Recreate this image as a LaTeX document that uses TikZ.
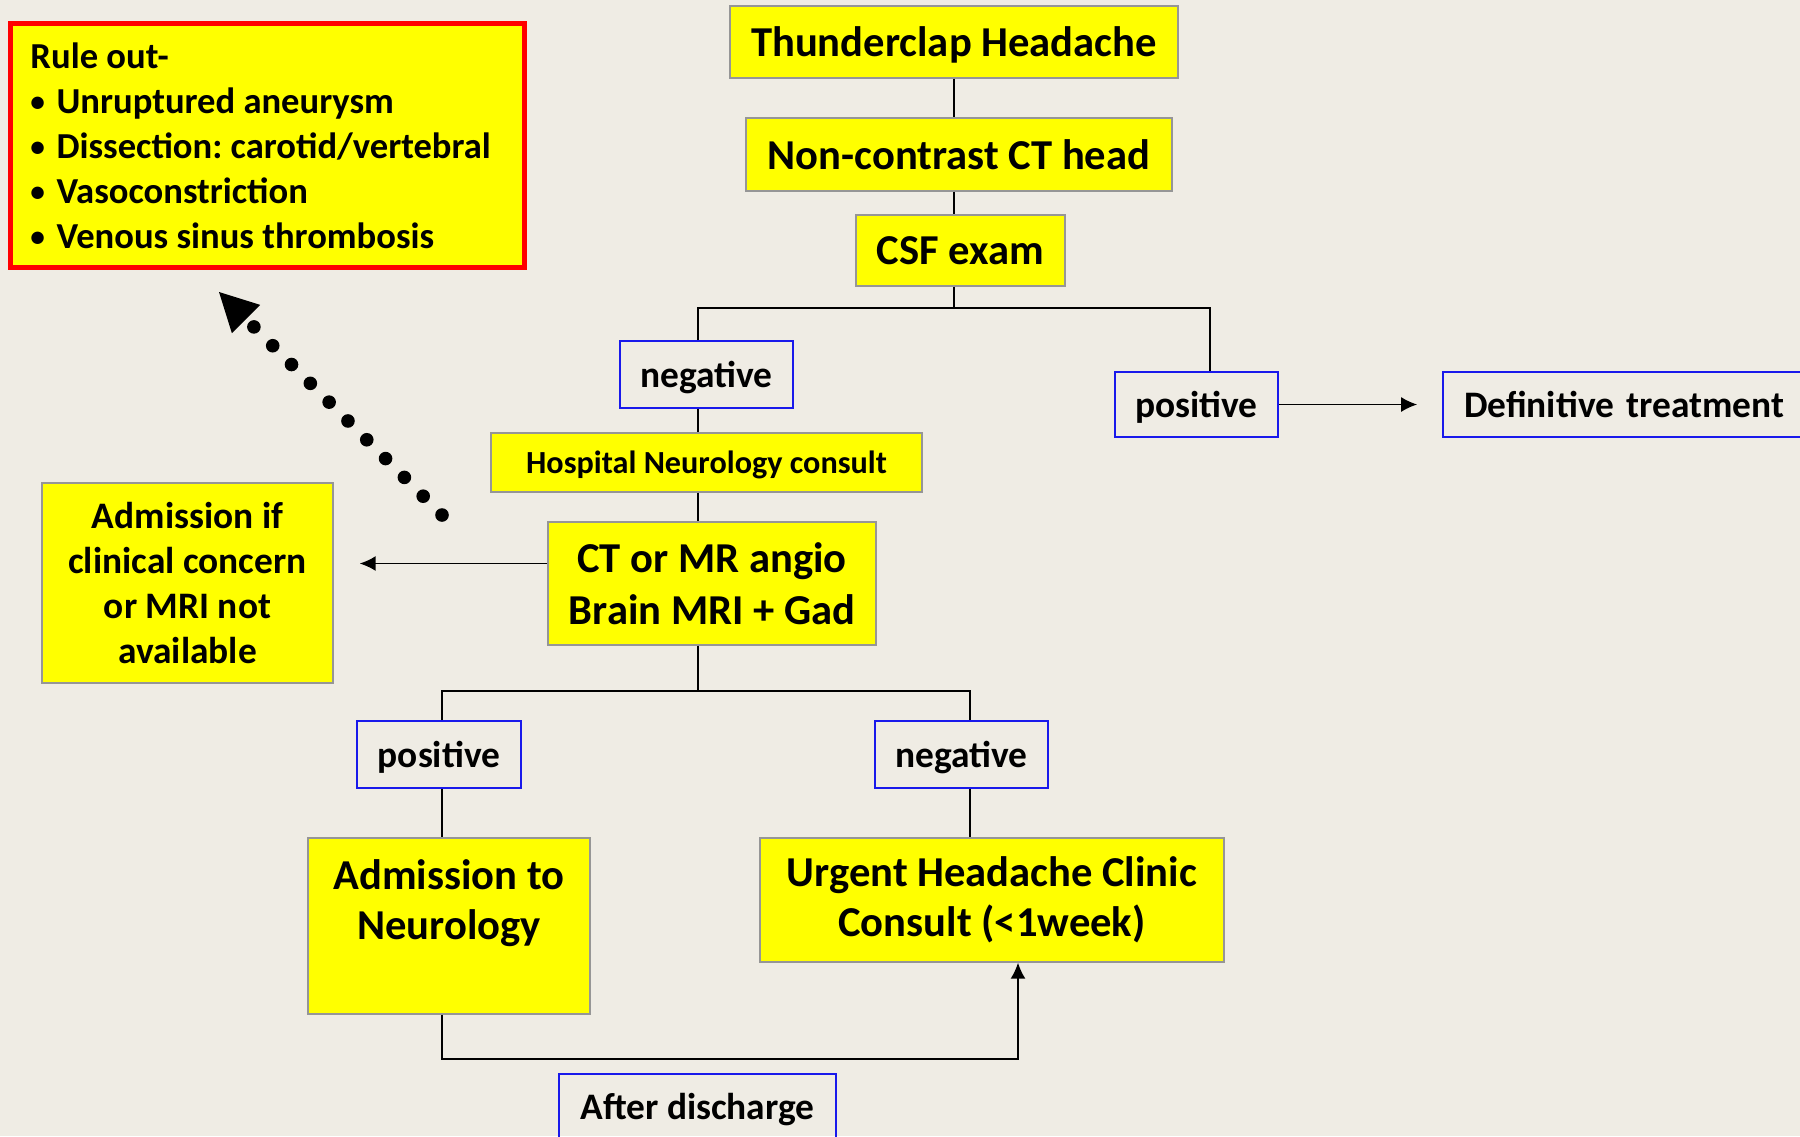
\documentclass[tikz,border=0pt]{standalone}
\usepackage{fontspec}
\setmainfont{Carlito}
\usetikzlibrary{arrows.meta, positioning, calc}
\definecolor{mybg}{RGB}{239, 236, 228}
\definecolor{myyellow}{RGB}{255, 255, 0}
\definecolor{mygray}{RGB}{150, 150, 150}
\definecolor{myblue}{RGB}{25, 25, 235}
\definecolor{myred}{RGB}{255, 0, 0}
\newcommand{\fs}[2]{\fontsize{#1pt}{#2pt}\selectfont\bfseries}
\newcommand{\bul}{\raisebox{0.06em}{\scalebox{0.8}{•}}\ \hspace{1.6pt}}
\frenchspacing
\tikzset{>={Latex[length=8pt, width=7.5pt]}}
\tikzset{
  ybox/.style = {draw = mygray, line width = 0.7pt, fill = myyellow, align = center, inner sep = 0pt},
  bbox/.style = {draw = myblue, line width = 0.9pt, align = center, inner sep = 0pt, text depth = 0pt, font = \fs{18.7}{22}},
  conn/.style = {line width = 0.8pt},
}

\begin{document}
\begin{tikzpicture}[x = 0.5pt, y = -0.5pt]
\fill[mybg] (0, 0) rectangle (1800, 1136);
\useasboundingbox (0, 0) rectangle (1800, 1136);
\clip (0, 0) rectangle (1800, 1136);

% top column
\node[ybox, minimum width = 224pt, minimum height = 36pt, text depth = 0pt, font = \fs{21.3}{26}] (thunder) at (954, 42) {Thunderclap Headache};
\node[ybox, minimum width = 213pt, minimum height = 36.5pt, font = \fs{21.3}{26}] (ncct) at (959, 154.5) {Non-contrast CT head};
\node[ybox, minimum width = 104.5pt, minimum height = 35.5pt, font = \fs{21.3}{26}] (csf) at (960.5, 250.5) {CSF exam};

% rule out box
\node[ybox, draw = myred, line width = 2.5pt, anchor = north west, minimum width = 257pt, minimum height = 122pt,
      text width = 237pt, align = flush left, font = \fs{18.3}{22.5}] (rule) at (8, 21)
  {Rule out-\\
   \bul Unruptured aneurysm\\
   \bul Dissection: carotid/vertebral\\
   \bul Vasoconstriction\\
   \bul Venous sinus thrombosis};

% first branch
\node[bbox, minimum width = 86.5pt, minimum height = 33.5pt] (neg1) at (706.5, 374.5) {negative};
\node[bbox, minimum width = 81.5pt, minimum height = 32.5pt] (pos1) at (1196.5, 404.5) {positive};
\node[bbox, minimum width = 185pt, minimum height = 32.5pt, text width = 164pt, align = left] (defin) at (1628, 404.5) {Definitive treatment};
\node[ybox, minimum width = 215.5pt, minimum height = 29.5pt, text depth = 0pt, font = \fs{16.1}{19}] (hosp) at (706.5, 462.5) {Hospital Neurology consult};
\node[ybox, minimum width = 164pt, minimum height = 61.5pt, font = \fs{21.3}{26}] (ctmr) at (712, 583.5) {CT or MR angio\\Brain MRI + Gad};
\node[ybox, minimum width = 145.5pt, minimum height = 100pt, font = \fs{18.7}{22.5}] (adm1) at (187.5, 583) {Admission if\\clinical concern\\or MRI not\\available};

% second branch
\node[bbox, minimum width = 82pt, minimum height = 33.5pt] (pos2) at (439, 754.5) {positive};
\node[bbox, minimum width = 86.5pt, minimum height = 33.5pt] (neg2) at (961.5, 754.5) {negative};
\node[ybox, minimum width = 141pt, minimum height = 88pt] (adm2) at (449, 926) {};
\node[font = \fs{21.3}{25}, align = center, inner sep = 0pt, anchor = north] (adm2txt) at (449, 859) {Admission to\\Neurology};
\node[ybox, minimum width = 232pt, minimum height = 62pt, font = \fs{21.3}{25}] (urg) at (992, 900) {Urgent Headache Clinic\\Consult (<1week)};
\node[bbox, minimum width = 138.5pt, minimum height = 40pt, text depth = 8pt, anchor = north] (after) at (697.5, 1073) {After discharge};

% junctions
\coordinate (jA) at (698, 308);
\coordinate (jB) at (1210, 308);
\coordinate (jC) at (442, 691);
\coordinate (jD) at (970, 691);
\coordinate (jE) at (1018, 1059);
\coordinate (dotS) at (442, 515);
\coordinate (dotE) at (254, 327);
\coordinate (tipB) at (246, 319);
\coordinate (tip) at (219, 292);

% connectors
\draw[conn] (thunder.south) -- (thunder.south |- ncct.north);
\draw[conn] (thunder.south |- ncct.south) -- (thunder.south |- csf.north);
\draw[conn] (thunder.south |- csf.south) -- (thunder.south |- jA);
\draw[conn] (jA |- neg1.north) -- (jA) -- (jB) -- (jB |- pos1.north);
\draw[conn, ->, shorten >= 12.5pt] (pos1.east) -- (defin.west);
\draw[conn] (jA |- neg1.south) -- (jA |- hosp.north);
\draw[conn] (jA |- hosp.south) -- (jA |- ctmr.north);
\draw[conn, ->, shorten >= 13pt] ([yshift = 10pt]ctmr.west) -- ([yshift = 10pt]ctmr.west -| adm1.east);
\draw[conn] (jA |- ctmr.south) -- (jA |- jC);
\draw[conn] (jC |- pos2.north) -- (jC) -- (jD) -- (jD |- neg2.north);
\draw[conn] (jC |- pos2.south) -- (jC |- adm2.north);
\draw[conn] (jD |- neg2.south) -- (jD |- urg.north);
\draw[conn, ->] (jC |- adm2.south) |- (jE) -- (jE |- urg.south);

% dotted arrow
\draw[line width = 6.8pt, line cap = round, dash pattern = on 0pt off 13.3pt] (dotS) -- ($(dotE)!-0.5pt!(dotS)$);
\fill (tip) -- ($(tipB)!10pt!90:(tip)$) -- ($(tipB)!10pt!-90:(tip)$) -- cycle;
\end{tikzpicture}
\end{document}
